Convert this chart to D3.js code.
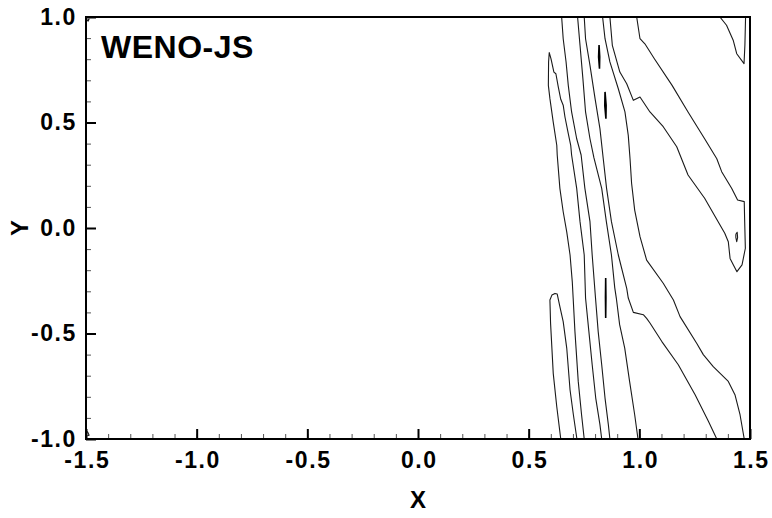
<!DOCTYPE html>
<html>
<head>
<meta charset="utf-8">
<script src="https://cdn.jsdelivr.net/npm/d3@7"></script>
<style>
  html, body { margin: 0; padding: 0; background: #fff; }
  svg { display: block; }
  text { font-family: "Liberation Sans", Arial, Helvetica, sans-serif; font-weight: bold; fill: #000; }
</style>
</head>
<body>
<svg id="chart" width="772" height="518"></svg>
<script>
// ---------- data ----------
const title = "WENO-JS";
const xLabel = "X";
const yLabel = "Y";
const xDomain = [-1.5, 1.5];
const yDomain = [-1.0, 1.0];
const xTicks = [-1.5, -1.0, -0.5, 0.0, 0.5, 1.0, 1.5];
const yTicks = [-1.0, -0.5, 0.0, 0.5, 1.0];

// contour polylines [x, y]
const contourA = [
  [0.751,-1.0],[0.739,-0.885],[0.724,-0.727],[0.709,-0.490],[0.701,-0.332],[0.697,-0.254],
  [0.687,-0.128],[0.672,-0.018],[0.656,0.077],[0.641,0.188],[0.629,0.346],[0.627,0.392],
  [0.611,0.502],[0.596,0.613],[0.589,0.676],[0.590,0.787],[0.593,0.831],
  [0.601,0.802],[0.614,0.739],[0.623,0.731],[0.634,0.668],[0.645,0.610],[0.656,0.582],
  [0.664,0.526],[0.679,0.447],[0.690,0.392],[0.694,0.346],[0.717,0.188],[0.732,0.030],
  [0.751,-0.128],[0.757,-0.332],[0.772,-0.490],[0.787,-0.648],[0.803,-0.806],[0.822,-0.932],[0.830,-1.0]
];
const contourB = [
  [0.649,1.0],[0.656,0.897],[0.669,0.787],[0.679,0.676],[0.694,0.550],[0.717,0.423],
  [0.737,0.346],[0.754,0.188],[0.777,0.030],[0.787,-0.128],[0.802,-0.332],[0.814,-0.490],
  [0.830,-0.648],[0.845,-0.806],[0.860,-0.932],[0.867,-1.0]
];
const contourC = [
  [0.721,1.0],[0.732,0.866],[0.745,0.708],[0.757,0.550],[0.777,0.423],[0.795,0.332],
  [0.830,0.188],[0.851,0.030],[0.874,-0.128],[0.889,-0.284],[0.896,-0.332],[0.911,-0.458],
  [0.934,-0.569],[0.956,-0.727],[0.979,-0.885],[0.994,-1.0]
];
const contourD = [
  [0.751,1.0],[0.757,0.897],[0.777,0.771],[0.800,0.613],[0.822,0.471],[0.837,0.328],
  [0.852,0.188],[0.874,0.030],[0.905,-0.128],[0.943,-0.286],[0.950,-0.332],[0.973,-0.400],
  [1.018,-0.411],[1.033,-0.428],[1.048,-0.450],[1.101,-0.537],[1.176,-0.648],[1.252,-0.790],
  [1.312,-0.916],[1.350,-1.0]
];
const contourE = [
  [0.834,1.0],[0.845,0.897],[0.867,0.787],[0.905,0.660],[0.935,0.550],[0.950,0.439],
  [0.958,0.328],[0.965,0.212],[0.979,0.085],[1.003,-0.041],[1.033,-0.152],[1.108,-0.262],
  [1.154,-0.341],[1.184,-0.420],[1.259,-0.546],[1.289,-0.600],[1.334,-0.657],[1.402,-0.727],
  [1.432,-0.790],[1.455,-0.885],[1.474,-1.0]
];
const contourF = [
  [0.867,1.0],[0.878,0.866],[0.912,0.739],[0.943,0.684],[0.973,0.605],[1.003,0.621],
  [1.048,0.550],[1.108,0.480],[1.169,0.385],[1.220,0.251],[1.295,0.141],[1.386,-0.025],
  [1.402,-0.065],[1.410,-0.144],[1.425,-0.175],[1.441,-0.207],[1.464,-0.175],[1.479,-0.096],
  [1.476,0.030],[1.474,0.125],[1.444,0.133],[1.417,0.188],[1.372,0.267],[1.350,0.328],
  [1.295,0.423],[1.220,0.550],[1.148,0.676],[1.068,0.802],[1.025,0.873],[1.003,0.897],[0.988,1.0]
];
const contourCorner = [
  [1.364,1.0],[1.394,0.961],[1.424,0.890],[1.440,0.826],[1.473,0.779],[1.477,0.867],[1.480,1.0]
];
const contourHump = [
  [0.645,-1.0],[0.627,-0.847],[0.611,-0.689],[0.599,-0.452],[0.596,-0.341],[0.605,-0.318],
  [0.619,-0.310],[0.629,-0.313],[0.641,-0.373],[0.656,-0.444],[0.672,-0.569],[0.687,-0.768],
  [0.702,-0.885],[0.718,-1.0]
];
const contourNose = [
  [1.436,-0.030],[1.442,-0.020],[1.444,-0.045],[1.440,-0.065],[1.436,-0.045],[1.436,-0.030]
];
const dash1 = [[0.818,0.867],[0.816,0.810],[0.820,0.755],[0.821,0.812],[0.818,0.867]];
const dash2 = [[0.845,0.645],[0.844,0.580],[0.849,0.518],[0.850,0.582],[0.845,0.645]];
const dash3 = [[0.848,-0.237],[0.847,-0.330],[0.848,-0.427],[0.849,-0.330],[0.848,-0.237]];
const cornerTL = [[-1.500,0.975],[-1.493,0.986],[-1.486,0.990],[-1.491,0.979]];
const cornerBL = [[-1.500,-0.962],[-1.492,-0.968],[-1.486,-0.982],[-1.494,-0.985]];

const contours = [contourA, contourB, contourC, contourD, contourE, contourF,
                  contourCorner, contourHump, contourNose, cornerTL, cornerBL];
const dashes = [dash1, dash2, dash3];

// ---------- layout ----------
const svg = d3.select("#chart");
const mLeft = 86, mRight = 750, mTop = 17, mBottom = 439;

const x = d3.scaleLinear().domain(xDomain).range([mLeft, mRight]);
const y = d3.scaleLinear().domain(yDomain).range([mBottom, mTop]);
const fmt = d => d3.format(".1f")(d).replace("\u2212", "-");

svg.append("defs").append("clipPath").attr("id", "clip")
  .append("rect").attr("x", mLeft).attr("y", mTop).attr("width", mRight - mLeft).attr("height", mBottom - mTop);

const line = d3.line().x(d => x(d[0])).y(d => y(d[1]));
const g = svg.append("g").attr("clip-path", "url(#clip)");
g.selectAll("path.c").data(contours).join("path").attr("class", "c")
  .attr("d", line).attr("fill", "none").attr("stroke", "#1a1a1a").attr("stroke-width", 1.1)
  .attr("stroke-linejoin", "round");
g.selectAll("path.d").data(dashes).join("path").attr("class", "d")
  .attr("d", line).attr("fill", "none").attr("stroke", "#000").attr("stroke-width", 1.6);

// minor ticks
const xMinorAxis = d3.axisBottom(x).ticks(30).tickSizeInner(-5).tickSizeOuter(0).tickFormat("");
const yMinorAxis = d3.axisLeft(y).ticks(20).tickSizeInner(-5).tickSizeOuter(0).tickFormat("");
const gxm = svg.append("g").attr("transform", `translate(0,${mBottom})`).call(xMinorAxis);
const gym = svg.append("g").attr("transform", `translate(${mLeft},0)`).call(yMinorAxis);
[gxm, gym].forEach(s => { s.select(".domain").remove(); s.selectAll("line").attr("stroke", "#555").attr("stroke-width", 1); });

// major ticks
const xAxis = d3.axisBottom(x).tickValues(xTicks).tickSizeInner(-10).tickSizeOuter(0).tickPadding(13).tickFormat(fmt);
const yAxis = d3.axisLeft(y).tickValues(yTicks).tickSizeInner(-10).tickSizeOuter(0).tickPadding(9).tickFormat(fmt);
const gx = svg.append("g").attr("transform", `translate(0,${mBottom})`).call(xAxis);
const gy = svg.append("g").attr("transform", `translate(${mLeft},0)`).call(yAxis);
[gx, gy].forEach(s => {
  s.select(".domain").remove();
  s.selectAll("line").attr("stroke", "#000").attr("stroke-width", 2);
  s.selectAll("text").style("font-size", "23px").style("font-weight", "bold")
    .style("letter-spacing", "1.6px")
    .attr("font-family", "'Liberation Sans', Arial, sans-serif").attr("fill", "#000");
});
gx.selectAll("text").attr("dx", "0.8px");

// frame
svg.append("rect").attr("x", mLeft).attr("y", mTop).attr("width", mRight - mLeft).attr("height", mBottom - mTop)
  .attr("fill", "none").attr("stroke", "#000").attr("stroke-width", 2);

// titles
svg.append("text").attr("x", 101).attr("y", 58).style("font-size", "32px")
  .style("letter-spacing", "0.5px").text(title);
svg.append("text").attr("x", (mLeft + mRight) / 2).attr("y", 508).attr("text-anchor", "middle")
  .style("font-size", "24px").text(xLabel);
svg.append("text").attr("transform", `translate(28,${(mTop + mBottom) / 2}) rotate(-90)`)
  .attr("text-anchor", "middle").style("font-size", "24px").text(yLabel);
</script>
</body>
</html>
